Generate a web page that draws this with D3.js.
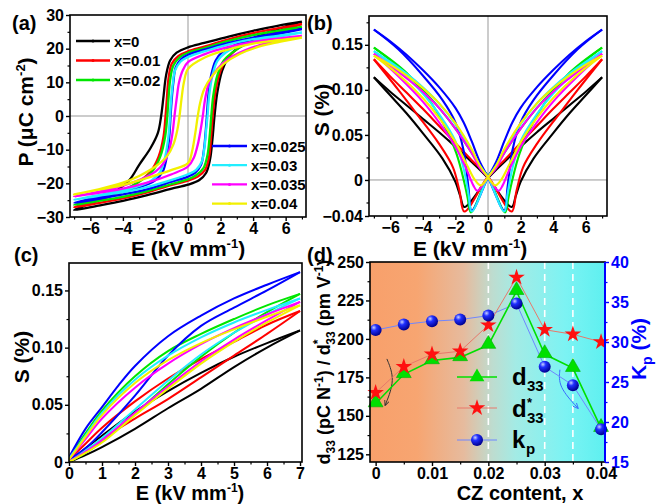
<!DOCTYPE html>
<html>
<head>
<meta charset="utf-8">
<script src="https://cdn.jsdelivr.net/npm/d3@7"></script>
<style>
body { margin: 0; background: #fff; }
svg { display: block; font-family: "Liberation Sans", Arial, sans-serif; font-weight: bold; }
</style>
</head>
<body>
<svg id="fig" width="657" height="504"></svg>
<script>
// ---------- data ----------
var loopNames = ["x=0", "x=0.01", "x=0.02", "x=0.025", "x=0.03", "x=0.035", "x=0.04"]
var loopColors = ["#000000", "#ff0000", "#00e600", "#0000ff", "#22eeff", "#ff00ff", "#f2f000"]

// (a) descending branch of the P-E loops, [E (kV/mm), P (uC/cm2)], from +7 to -7
var peDnX0 = [[7,28],[5.5,26.8],[4,25.3],[2.5,23.6],[1,21.7],[0,20.4],[-0.7,18.8],[-1.1,16.5],[-1.35,12],[-1.5,6],[-1.65,0],[-1.85,-5],[-2.3,-9.5],[-3,-14.5],[-3.6,-19],[-4.5,-22.5],[-5.5,-25],[-7,-27.9]]
var peDnX001 = [[7,27.3],[5.5,26],[4,24.6],[2.5,22.8],[1,20.6],[0,19.2],[-0.6,17.8],[-1,15.5],[-1.2,11],[-1.3,5],[-1.38,0],[-1.5,-6],[-1.8,-12],[-2.3,-16.5],[-3,-19.5],[-4,-22.5],[-5.5,-25],[-7,-27.1]]
var peDnX002 = [[7,26.5],[5.5,25.3],[4,24],[2.5,22.3],[1,20.2],[0,18.8],[-0.5,17.5],[-0.9,15],[-1.1,10.5],[-1.2,5],[-1.27,0],[-1.4,-6],[-1.7,-12],[-2.2,-16.5],[-3,-19.5],[-4,-22],[-5.5,-24.3],[-7,-26.4]]
var peDnX0025 = [[7,25.8],[5.5,24.6],[4,23.3],[2.5,21.7],[1,19.7],[0,18.2],[-0.4,17],[-0.75,14.5],[-0.9,10],[-1,5],[-1.07,0],[-1.15,-6],[-1.3,-12],[-1.55,-16.5],[-2,-19],[-3,-21.2],[-4,-22.5],[-5.5,-24],[-7,-25.8]]
var peDnX003 = [[7,24.8],[5.5,23.8],[4,22.8],[2.5,21.3],[1,19.2],[0,17.5],[-0.45,16.2],[-0.8,13.5],[-0.95,9],[-1.05,4],[-1.1,0],[-1.2,-6],[-1.4,-12],[-1.7,-16.5],[-2.2,-19],[-3,-20.8],[-4,-22],[-5.5,-23.5],[-7,-24.9]]
var peDnX0035 = [[7,23.8],[5.5,23],[4,22],[2.5,20.5],[1,18.3],[0,16],[-0.3,13.8],[-0.55,10],[-0.7,5],[-0.83,0],[-0.95,-5],[-1.15,-10],[-1.5,-14],[-2,-16.5],[-3,-19],[-4,-20.7],[-5.5,-22.5],[-7,-23.9]]
var peDnX004 = [[7,23.3],[5.5,22.5],[4,21.5],[2.5,19.8],[1,17.3],[0,14],[-0.25,10],[-0.4,5],[-0.52,0],[-0.65,-4],[-0.9,-8.5],[-1.3,-12],[-2,-15],[-3,-17.8],[-4,-19.8],[-5.5,-21.8],[-7,-23.3]]

// (a) ascending branch, from -7 to +7
var peUpX0 = [[-7,-27.9],[-5.5,-26.6],[-4,-25.2],[-2.5,-23.5],[-1,-21.6],[0,-20.4],[0.7,-19],[1.1,-17],[1.35,-13],[1.5,-7],[1.63,0],[1.8,7],[2.1,13.5],[2.5,17.5],[3,20],[4,23],[5.5,25.8],[7,28]]
var peUpX001 = [[-7,-27.1],[-5.5,-25.9],[-4,-24.5],[-2.5,-22.7],[-1,-20.5],[0,-19.2],[0.6,-18],[1.05,-16],[1.3,-12],[1.42,-6],[1.52,0],[1.65,6],[1.9,12],[2.3,16.5],[3,19.8],[4,22.5],[5.5,25],[7,27.3]]
var peUpX002 = [[-7,-26.4],[-5.5,-25.2],[-4,-24],[-2.5,-22.3],[-1,-20.2],[0,-18.8],[0.5,-17.6],[0.95,-15.5],[1.2,-11.5],[1.33,-6],[1.43,0],[1.55,6],[1.8,12],[2.2,16.5],[3,19.8],[4,22.2],[5.5,24.5],[7,26.5]]
var peUpX0025 = [[-7,-25.8],[-5.5,-24.6],[-4,-23.3],[-2.5,-21.7],[-1,-19.5],[0,-18],[0.45,-16.8],[0.8,-14.5],[0.98,-10],[1.08,-5],[1.16,0],[1.25,6],[1.42,12],[1.7,16.5],[2.1,19],[3,21.3],[4,22.8],[5.5,24.3],[7,25.8]]
var peUpX003 = [[-7,-24.9],[-5.5,-23.7],[-4,-22.6],[-2.5,-21.1],[-1,-19],[0,-17.3],[0.5,-16],[0.85,-13.5],[1.02,-9],[1.12,-4],[1.2,0],[1.3,6],[1.5,12],[1.8,16.3],[2.3,18.8],[3,20.6],[4,22],[5.5,23.5],[7,24.8]]
var peUpX0035 = [[-7,-23.9],[-5.5,-22.8],[-4,-21.6],[-2.5,-19.8],[-1,-17.3],[0,-15],[0.35,-12.5],[0.6,-8.5],[0.78,-4],[0.91,0],[1.05,5],[1.3,10],[1.8,14],[2.5,17],[3.5,19.5],[4.5,21.2],[5.5,22.5],[7,23.8]]
var peUpX004 = [[-7,-23.3],[-5.5,-21.9],[-4,-20.5],[-2.5,-18.4],[-1,-16],[0,-14],[0.25,-10.5],[0.45,-5],[0.6,0],[0.75,4],[1,8],[1.5,12],[2.2,15.5],[3.2,18.5],[4.5,20.8],[5.5,21.9],[7,23.3]]

// (b) bipolar strain: inner branch [|E|, S%] from 0 to 7, outer branch from strain minimum to 7
var sbInX0 = [[0,0.002],[1,0.02],[2,0.037],[3,0.053],[4,0.068],[5,0.083],[6,0.098],[7,0.114]]
var sbOutX0 = [[1.45,-0.03],[1.7,-0.018],[2,-0.002],[2.8,0.024],[4,0.052],[5,0.074],[6,0.094],[7,0.114]]
var sbInX001 = [[0,0.004],[1,0.022],[2,0.041],[3,0.06],[4,0.079],[5,0.097],[6,0.115],[7,0.134]]
var sbOutX001 = [[1.45,-0.035],[1.75,-0.012],[2.15,0.014],[3,0.04],[4.4,0.074],[5.5,0.1],[7,0.134]]
var sbInX002 = [[0,0.004],[0.5,0.016],[1,0.03],[2,0.057],[3,0.08],[4,0.1],[5,0.117],[6,0.133],[7,0.147]]
var sbOutX002 = [[1.05,-0.036],[1.25,-0.02],[1.45,-0.003],[1.95,0.03],[2.75,0.063],[3.5,0.086],[5,0.119],[7,0.147]]
var sbInX0025 = [[0,0.003],[0.5,0.02],[1,0.043],[1.5,0.064],[2,0.08],[3,0.103],[4,0.122],[5,0.139],[6,0.154],[7,0.167]]
var sbOutX0025 = [[1,-0.034],[1.2,-0.008],[1.5,0.033],[2,0.064],[2.8,0.089],[4,0.116],[5.5,0.145],[7,0.167]]
var sbInX003 = [[0,0.003],[0.5,0.016],[1,0.033],[2,0.062],[3,0.085],[4,0.103],[5,0.118],[6,0.131],[7,0.143]]
var sbOutX003 = [[1,-0.035],[1.2,-0.015],[1.5,0.013],[2,0.043],[3,0.073],[4,0.096],[5.5,0.122],[7,0.143]]
var sbInX0035 = [[0,0.003],[0.5,0.013],[1,0.03],[2,0.057],[3,0.08],[4,0.098],[5,0.113],[6,0.127],[7,0.14]]
var sbOutX0035 = [[0.65,-0.012],[0.9,-0.006],[1.3,0.011],[2,0.037],[3,0.064],[4,0.087],[5.5,0.115],[7,0.14]]
var sbInX004 = [[0,0.003],[0.5,0.016],[1,0.034],[2,0.063],[3,0.085],[4,0.102],[5,0.116],[6,0.128],[7,0.138]]
var sbOutX004 = [[0.45,-0.006],[0.8,0],[1.3,0.017],[2,0.042],[3,0.069],[4,0.091],[5.5,0.117],[7,0.138]]

// (c) unipolar strain: upper and lower branch, [E, S%]
var suUpX0 = [[0,0],[0.5,0.012],[1,0.023],[2,0.044],[3,0.062],[4,0.078],[5,0.092],[6,0.104],[7,0.115]]
var suLoX0 = [[0,0],[0.5,0.006],[1,0.013],[2,0.029],[3,0.047],[4,0.064],[5,0.083],[6,0.1],[7,0.115]]
var suUpX001 = [[0,0.002],[0.5,0.016],[1,0.03],[2,0.053],[3,0.073],[4,0.09],[5,0.105],[6,0.12],[7,0.132]]
var suLoX001 = [[0,0],[0.5,0.009],[1,0.02],[2,0.038],[3,0.055],[4,0.074],[5,0.093],[6,0.112],[7,0.132]]
var suUpX002 = [[0,0.003],[0.5,0.025],[1,0.045],[2,0.075],[3,0.097],[4,0.112],[5,0.125],[6,0.137],[7,0.147]]
var suLoX002 = [[0,0],[0.5,0.008],[1,0.018],[2,0.042],[3,0.068],[4,0.092],[5,0.113],[6,0.131],[7,0.147]]
var suUpX0025 = [[0,0.004],[0.5,0.029],[1,0.048],[1.5,0.067],[2,0.084],[3,0.11],[4,0.128],[5,0.143],[6,0.155],[7,0.166]]
var suLoX0025 = [[0,0.002],[0.5,0.012],[1,0.026],[2,0.058],[3,0.093],[4,0.119],[5,0.135],[6,0.15],[7,0.166]]
var suUpX003 = [[0,0.003],[0.5,0.023],[1,0.043],[2,0.072],[3,0.093],[4,0.109],[5,0.122],[6,0.133],[7,0.143]]
var suLoX003 = [[0,0],[0.5,0.01],[1,0.021],[2,0.046],[3,0.071],[4,0.094],[5,0.113],[6,0.129],[7,0.143]]
var suUpX0035 = [[0,0.002],[0.5,0.02],[1,0.038],[2,0.065],[3,0.086],[4,0.103],[5,0.117],[6,0.129],[7,0.14]]
var suLoX0035 = [[0,0],[0.5,0.009],[1,0.019],[2,0.043],[3,0.066],[4,0.088],[5,0.107],[6,0.124],[7,0.14]]
var suUpX004 = [[0,0.002],[0.5,0.022],[1,0.041],[2,0.069],[3,0.089],[4,0.104],[5,0.116],[6,0.127],[7,0.137]]
var suLoX004 = [[0,0],[0.5,0.008],[1,0.017],[2,0.041],[3,0.064],[4,0.086],[5,0.105],[6,0.122],[7,0.137]]

// (d) piezo coefficients vs CZ content
var czContent = [0, 0.005, 0.01, 0.015, 0.02, 0.025, 0.03, 0.035, 0.04]
var d33 = [158, 177, 186, 188, 196, 231, 190, 181, 142]
var d33star = [165, 182, 190, 192, 209, 240, 206, 203, 198]
var kp = [31.5, 32.2, 32.6, 32.8, 33.3, 34.8, 26.9, 24.6, 19.1]
var phaseLines = [0.02, 0.03, 0.035]
var arrowBlack = [[0.002, 187], [0.0035, 173.5], [0.0017, 157]]
var arrowBlue = [[0.0327, 180], [0.0324, 169], [0.0359, 155]]

var peDown = [peDnX0, peDnX001, peDnX002, peDnX0025, peDnX003, peDnX0035, peDnX004]
var peUp = [peUpX0, peUpX001, peUpX002, peUpX0025, peUpX003, peUpX0035, peUpX004]
var sbInner = [sbInX0, sbInX001, sbInX002, sbInX0025, sbInX003, sbInX0035, sbInX004]
var sbOuter = [sbOutX0, sbOutX001, sbOutX002, sbOutX0025, sbOutX003, sbOutX0035, sbOutX004]
var suUpper = [suUpX0, suUpX001, suUpX002, suUpX0025, suUpX003, suUpX0035, suUpX004]
var suLower = [suLoX0, suLoX001, suLoX002, suLoX0025, suLoX003, suLoX0035, suLoX004]

// ---------- helpers ----------
var svg = d3.select("#fig")
var defs = svg.append("defs")

function clipFor(id, x, y) {
    defs.append("clipPath").attr("id", id).append("rect")
        .attr("x", x.range()[0]).attr("y", y.range()[1])
        .attr("width", x.range()[1] - x.range()[0]).attr("height", y.range()[0] - y.range()[1])
}

function axis(gen, tr, major, minor, fmt, color) {
    color = color || "#000"
    var g = svg.append("g").attr("transform", tr)
    g.call(gen.tickValues(major).tickFormat(fmt).tickSize(4).tickPadding(2).tickSizeOuter(0))
    g.select(".domain").remove()
    g.selectAll("line").attr("stroke", color).attr("stroke-width", 1.4)
    g.selectAll("text").attr("fill", color).style("font-size", "16px").style("font-family", "inherit").style("font-weight", "bold")
    var m = svg.append("g").attr("transform", tr)
    m.call(gen.tickValues(minor).tickFormat("").tickSize(2.5).tickSizeOuter(0))
    m.select(".domain").remove()
    m.selectAll("line").attr("stroke", color).attr("stroke-width", 1.2)
}

function frame(x, y) {
    svg.append("rect")
        .attr("x", x.range()[0]).attr("y", y.range()[1])
        .attr("width", x.range()[1] - x.range()[0]).attr("height", y.range()[0] - y.range()[1])
        .attr("fill", "none").attr("stroke", "#000").attr("stroke-width", 1.6)
}

// label with optional super/subscripts: parts = [[text, size, dy, dx]]
function richText(tr, parts, anchor, color) {
    var t = svg.append("text").attr("transform", tr)
        .attr("text-anchor", anchor || "middle").attr("fill", color || "#000")
    parts.forEach(function(p) {
        var s = t.append("tspan").text(p[0]).style("font-size", p[1] + "px")
        if (p[2]) s.attr("dy", p[2])
        if (p[3]) s.attr("dx", p[3])
    })
    return t
}

var fmtPlain = function(d) { return d3.format("")(d) }
var fmt2 = function(d) { return d === 0 ? "0" : d3.format(".2f")(d) }

// ---------- (a) P-E loops ----------
var xa = d3.scaleLinear().domain([-7.25, 7.25]).range([70, 306])
var ya = d3.scaleLinear().domain([-30, 30]).range([217, 15])
clipFor("clipA", xa, ya)

svg.append("line").attr("x1", xa(0)).attr("x2", xa(0)).attr("y1", ya(30)).attr("y2", ya(-30)).attr("stroke", "#999").attr("stroke-width", 1)
svg.append("line").attr("x1", xa(-7.25)).attr("x2", xa(7.25)).attr("y1", ya(0)).attr("y2", ya(0)).attr("stroke", "#999").attr("stroke-width", 1)

var lineA = d3.line().x(function(d) { return xa(d[0]) }).y(function(d) { return ya(d[1]) })
    .curve(d3.curveCatmullRom.alpha(0.5))

var gA = svg.append("g").attr("clip-path", "url(#clipA)")
peDown.forEach(function(br, i) {
    gA.append("path").datum(br.concat(peUp[i].slice(1)))
        .attr("d", lineA).attr("fill", "none")
        .attr("stroke", loopColors[i]).attr("stroke-width", 2.3).attr("stroke-linejoin", "round")
})

frame(xa, ya)
axis(d3.axisLeft(ya), "translate(70,0)", [-30, -20, -10, 0, 10, 20, 30], [-25, -15, -5, 5, 15, 25], fmtPlain)
axis(d3.axisBottom(xa), "translate(0,217)", [-6, -4, -2, 0, 2, 4, 6], [-7, -5, -3, -1, 1, 3, 5, 7], fmtPlain)

// legend (a)
function legendRow(x1, x2, y, color, label) {
    svg.append("line").attr("x1", x1).attr("x2", x2).attr("y1", y).attr("y2", y)
        .attr("stroke", color).attr("stroke-width", 2.3)
    svg.append("circle").attr("cx", (x1 + x2) / 2).attr("cy", y).attr("r", 1.5).attr("fill", color)
    svg.append("text").attr("x", x2 + 4).attr("y", y + 5.5).text(label).style("font-size", "15px")
}
for (var i = 0; i < 3; i++) legendRow(76, 110, 41 + i * 19.5, loopColors[i], loopNames[i])
for (var j = 3; j < 7; j++) legendRow(212, 247, 146 + (j - 3) * 19.2, loopColors[j], loopNames[j])

richText("translate(33,112) rotate(-90)", [["P (\u03bcC cm", 21], ["-2", 13, -8], [")", 21, 8]])
richText("translate(188,256)", [["E (kV mm", 21], ["-1", 13, -8], [")", 21, 8]])
svg.append("text").attr("x", 12).attr("y", 30).text("(a)").style("font-size", "20px")

// ---------- (b) bipolar S-E ----------
var xb = d3.scaleLinear().domain([-7.3, 7.3]).range([369, 607])
var yb = d3.scaleLinear().domain([-0.04, 0.182]).range([216, 16])
clipFor("clipB", xb, yb)

svg.append("line").attr("x1", xb(0)).attr("x2", xb(0)).attr("y1", yb(0.182)).attr("y2", yb(-0.04)).attr("stroke", "#999").attr("stroke-width", 1)
svg.append("line").attr("x1", xb(-7.3)).attr("x2", xb(7.3)).attr("y1", yb(0)).attr("y2", yb(0)).attr("stroke", "#999").attr("stroke-width", 1)

var lineB = d3.line().x(function(d) { return xb(d[0]) }).y(function(d) { return yb(d[1]) })
    .curve(d3.curveCatmullRom.alpha(0.5))
var gB = svg.append("g").attr("clip-path", "url(#clipB)")
sbInner.forEach(function(inner, i) {
    var outer = sbOuter[i]
    var innerDown = inner.slice().reverse()
    // field going down: inner right half, then the outer left half (mirror in E)
    var down = innerDown.concat(outer.map(function(d) { return [-d[0], d[1]] }))
    var up = innerDown.map(function(d) { return [-d[0], d[1]] }).concat(outer)
    gB.append("path").datum(down).attr("d", lineB).attr("fill", "none")
        .attr("stroke", loopColors[i]).attr("stroke-width", 2.1).attr("stroke-linejoin", "round")
    gB.append("path").datum(up).attr("d", lineB).attr("fill", "none")
        .attr("stroke", loopColors[i]).attr("stroke-width", 2.1).attr("stroke-linejoin", "round")
})

frame(xb, yb)
axis(d3.axisLeft(yb), "translate(369,0)", [-0.04, 0, 0.05, 0.1, 0.15], [-0.025, 0.025, 0.075, 0.125, 0.175], fmt2)
axis(d3.axisBottom(xb), "translate(0,216)", [-6, -4, -2, 0, 2, 4, 6], [-7, -5, -3, -1, 1, 3, 5, 7], fmtPlain)

richText("translate(329,110) rotate(-90)", [["S (%)", 21]])
richText("translate(470,256)", [["E (kV mm", 21], ["-1", 13, -8], [")", 21, 8]])
svg.append("text").attr("x", 307).attr("y", 30).text("(b)").style("font-size", "20px")

// ---------- (c) unipolar S-E ----------
var xc = d3.scaleLinear().domain([0, 7.06]).range([69, 302])
var yc = d3.scaleLinear().domain([0, 0.174]).range([462, 263])
clipFor("clipC", xc, yc)

var lineC = d3.line().x(function(d) { return xc(d[0]) }).y(function(d) { return yc(d[1]) })
    .curve(d3.curveCatmullRom.alpha(0.5))
var gC = svg.append("g").attr("clip-path", "url(#clipC)")
suUpper.forEach(function(upper, i) {
    gC.append("path").datum(suLower[i]).attr("d", lineC).attr("fill", "none")
        .attr("stroke", loopColors[i]).attr("stroke-width", 2).attr("stroke-linejoin", "round")
    gC.append("path").datum(upper).attr("d", lineC).attr("fill", "none")
        .attr("stroke", loopColors[i]).attr("stroke-width", 2).attr("stroke-linejoin", "round")
})

frame(xc, yc)
axis(d3.axisLeft(yc), "translate(69,0)", [0, 0.05, 0.1, 0.15], [0.025, 0.075, 0.125], fmt2)
axis(d3.axisBottom(xc), "translate(0,462)", [0, 1, 2, 3, 4, 5, 6, 7], [0.5, 1.5, 2.5, 3.5, 4.5, 5.5, 6.5], fmtPlain)

richText("translate(29,357) rotate(-90)", [["S (%)", 21]])
richText("translate(190,500)", [["E (kV mm", 20], ["-1", 12, -8], [")", 20, 8]])
svg.append("text").attr("x", 14).attr("y", 262).text("(c)").style("font-size", "20px")

// ---------- (d) d33, d33*, kp ----------
var xd = d3.scaleLinear().domain([-0.001, 0.0407]).range([370, 605])
var yd = d3.scaleLinear().domain([120, 250]).range([462, 262])
var yk = d3.scaleLinear().domain([15, 40]).range([462, 262])

var grad = defs.append("linearGradient").attr("id", "bgGrad").attr("x1", "0%").attr("x2", "100%").attr("y1", "0%").attr("y2", "0%")
;[[0, "#f8a06b"], [0.2, "#f7a571"], [0.4, "#e6bb9e"], [0.52, "#bedccf"], [0.62, "#a3ebe5"], [0.83, "#7cf3f3"], [1, "#5ef0f0"]]
    .forEach(function(s) { grad.append("stop").attr("offset", s[0]).attr("stop-color", s[1]) })

var sph = defs.append("radialGradient").attr("id", "sphere").attr("cx", "35%").attr("cy", "30%").attr("r", "70%")
sph.append("stop").attr("offset", 0).attr("stop-color", "#c8d0ff")
sph.append("stop").attr("offset", 0.35).attr("stop-color", "#2030ff")
sph.append("stop").attr("offset", 1).attr("stop-color", "#000090")

defs.append("marker").attr("id", "arrK").attr("viewBox", "0 0 10 10").attr("refX", 8).attr("refY", 5)
    .attr("markerWidth", 6).attr("markerHeight", 6).attr("orient", "auto")
    .append("path").attr("d", "M0,1 L9,5 L0,9").attr("fill", "none").attr("stroke", "#333").attr("stroke-width", 1.5)
defs.append("marker").attr("id", "arrB").attr("viewBox", "0 0 10 10").attr("refX", 8).attr("refY", 5)
    .attr("markerWidth", 6).attr("markerHeight", 6).attr("orient", "auto")
    .append("path").attr("d", "M0,1 L9,5 L0,9").attr("fill", "none").attr("stroke", "#3a6cff").attr("stroke-width", 1.5)

svg.append("rect").attr("x", 370).attr("y", 262).attr("width", 235).attr("height", 200).attr("fill", "url(#bgGrad)")

svg.selectAll(".phase").data(phaseLines).enter().append("line")
    .attr("x1", function(d) { return xd(d) }).attr("x2", function(d) { return xd(d) })
    .attr("y1", 262).attr("y2", 462)
    .attr("stroke", "#fff").attr("stroke-width", 1.6).attr("stroke-dasharray", "7,5")

var lineD = d3.line().x(function(d) { return xd(d[0]) }).y(function(d) { return yd(d[1]) }).curve(d3.curveBasis)
svg.append("path").datum(arrowBlack).attr("d", lineD).attr("fill", "none").attr("stroke", "#333").attr("stroke-width", 1).attr("marker-end", "url(#arrK)")
svg.append("path").datum(arrowBlue).attr("d", lineD).attr("fill", "none").attr("stroke", "#3a6cff").attr("stroke-width", 1).attr("marker-end", "url(#arrB)")

var ptsD33 = czContent.map(function(c, i) { return [xd(c), yd(d33[i])] })
var ptsStar = czContent.map(function(c, i) { return [xd(c), yd(d33star[i])] })
var ptsKp = czContent.map(function(c, i) { return [xd(c), yk(kp[i])] })

svg.append("path").attr("d", d3.line()(ptsKp)).attr("fill", "none").attr("stroke", "#6f86ff").attr("stroke-width", 1)
svg.append("path").attr("d", d3.line()(ptsStar)).attr("fill", "none").attr("stroke", "#e8786a").attr("stroke-width", 1)
svg.append("path").attr("d", d3.line()(ptsD33)).attr("fill", "none").attr("stroke", "#00e000").attr("stroke-width", 1.6)

var tri = d3.symbol().type(d3.symbolTriangle).size(95)
var star = d3.symbol().type(d3.symbolStar).size(85)
svg.selectAll(".tri").data(ptsD33).enter().append("path")
    .attr("d", tri).attr("transform", function(d) { return "translate(" + d[0] + "," + (d[1] - 1) + ")" })
    .attr("fill", "#00e000").attr("stroke", "#00b000").attr("stroke-width", 0.6)
svg.selectAll(".star").data(ptsStar).enter().append("path")
    .attr("d", star).attr("transform", function(d) { return "translate(" + d[0] + "," + d[1] + ")" })
    .attr("fill", "#ff1010")
svg.selectAll(".ball").data(ptsKp).enter().append("circle")
    .attr("cx", function(d) { return d[0] }).attr("cy", function(d) { return d[1] }).attr("r", 6)
    .attr("fill", "url(#sphere)")

// legend (d)
function legendD(y, color, width, sym, fill) {
    svg.append("line").attr("x1", 457).attr("x2", 497).attr("y1", y).attr("y2", y).attr("stroke", color).attr("stroke-width", width)
    if (sym) svg.append("path").attr("d", sym).attr("transform", "translate(477," + y + ")").attr("fill", fill)
    else svg.append("circle").attr("cx", 477).attr("cy", y).attr("r", 6).attr("fill", "url(#sphere)")
}
legendD(377, "#00e000", 1.6, tri, "#00e000")
legendD(408, "#e8786a", 1, star, "#ff1010")
legendD(440, "#6f86ff", 1, null, null)
function legText(x, y, parts) {
    var g = svg.append("g")
    parts.forEach(function(p) {
        g.append("text").attr("x", x + p[1]).attr("y", y + p[2]).text(p[0]).style("font-size", p[3] + "px")
    })
}
legText(512, 385, [["d", 0, 0, 24], ["33", 15, 6, 15]])
legText(512, 417, [["d", 0, 0, 24], ["*", 15, -10, 13], ["33", 15, 6, 15]])
legText(512, 448, [["k", 0, 0, 24], ["p", 14, 6, 15]])

frame(xd, yd)
svg.append("line").attr("x1", 605).attr("x2", 605).attr("y1", 262).attr("y2", 462).attr("stroke", "#0000ff").attr("stroke-width", 2)
axis(d3.axisLeft(yd), "translate(370,0)", [125, 150, 175, 200, 225, 250], [137.5, 162.5, 187.5, 212.5, 237.5], fmtPlain)
axis(d3.axisRight(yk), "translate(605,0)", [15, 20, 25, 30, 35, 40], [17.5, 22.5, 27.5, 32.5, 37.5], fmtPlain, "#0000ff")
axis(d3.axisBottom(xd), "translate(0,462)", [0, 0.01, 0.02, 0.03, 0.04], [0.005, 0.015, 0.025, 0.035], fmt2)

richText("translate(330,362) rotate(-90)", [
    ["d", 18], ["33", 12, 5], [" (pC N", 18, -5], ["-1", 12, -7], [") / d", 18, 7],
    ["*", 12, -8], ["33", 12, 13, -5], [" (pm V", 18, -5], ["-1", 12, -7], [")", 18, 7]])
richText("translate(646,349) rotate(-90)", [["K", 21], ["p", 14, 6], [" (%)", 21, -6]], "middle", "#0000ff")
richText("translate(520,500)", [["CZ content, x", 20]])
svg.append("text").attr("x", 307).attr("y", 262).text("(d)").style("font-size", "20px")
</script>
</body>
</html>
